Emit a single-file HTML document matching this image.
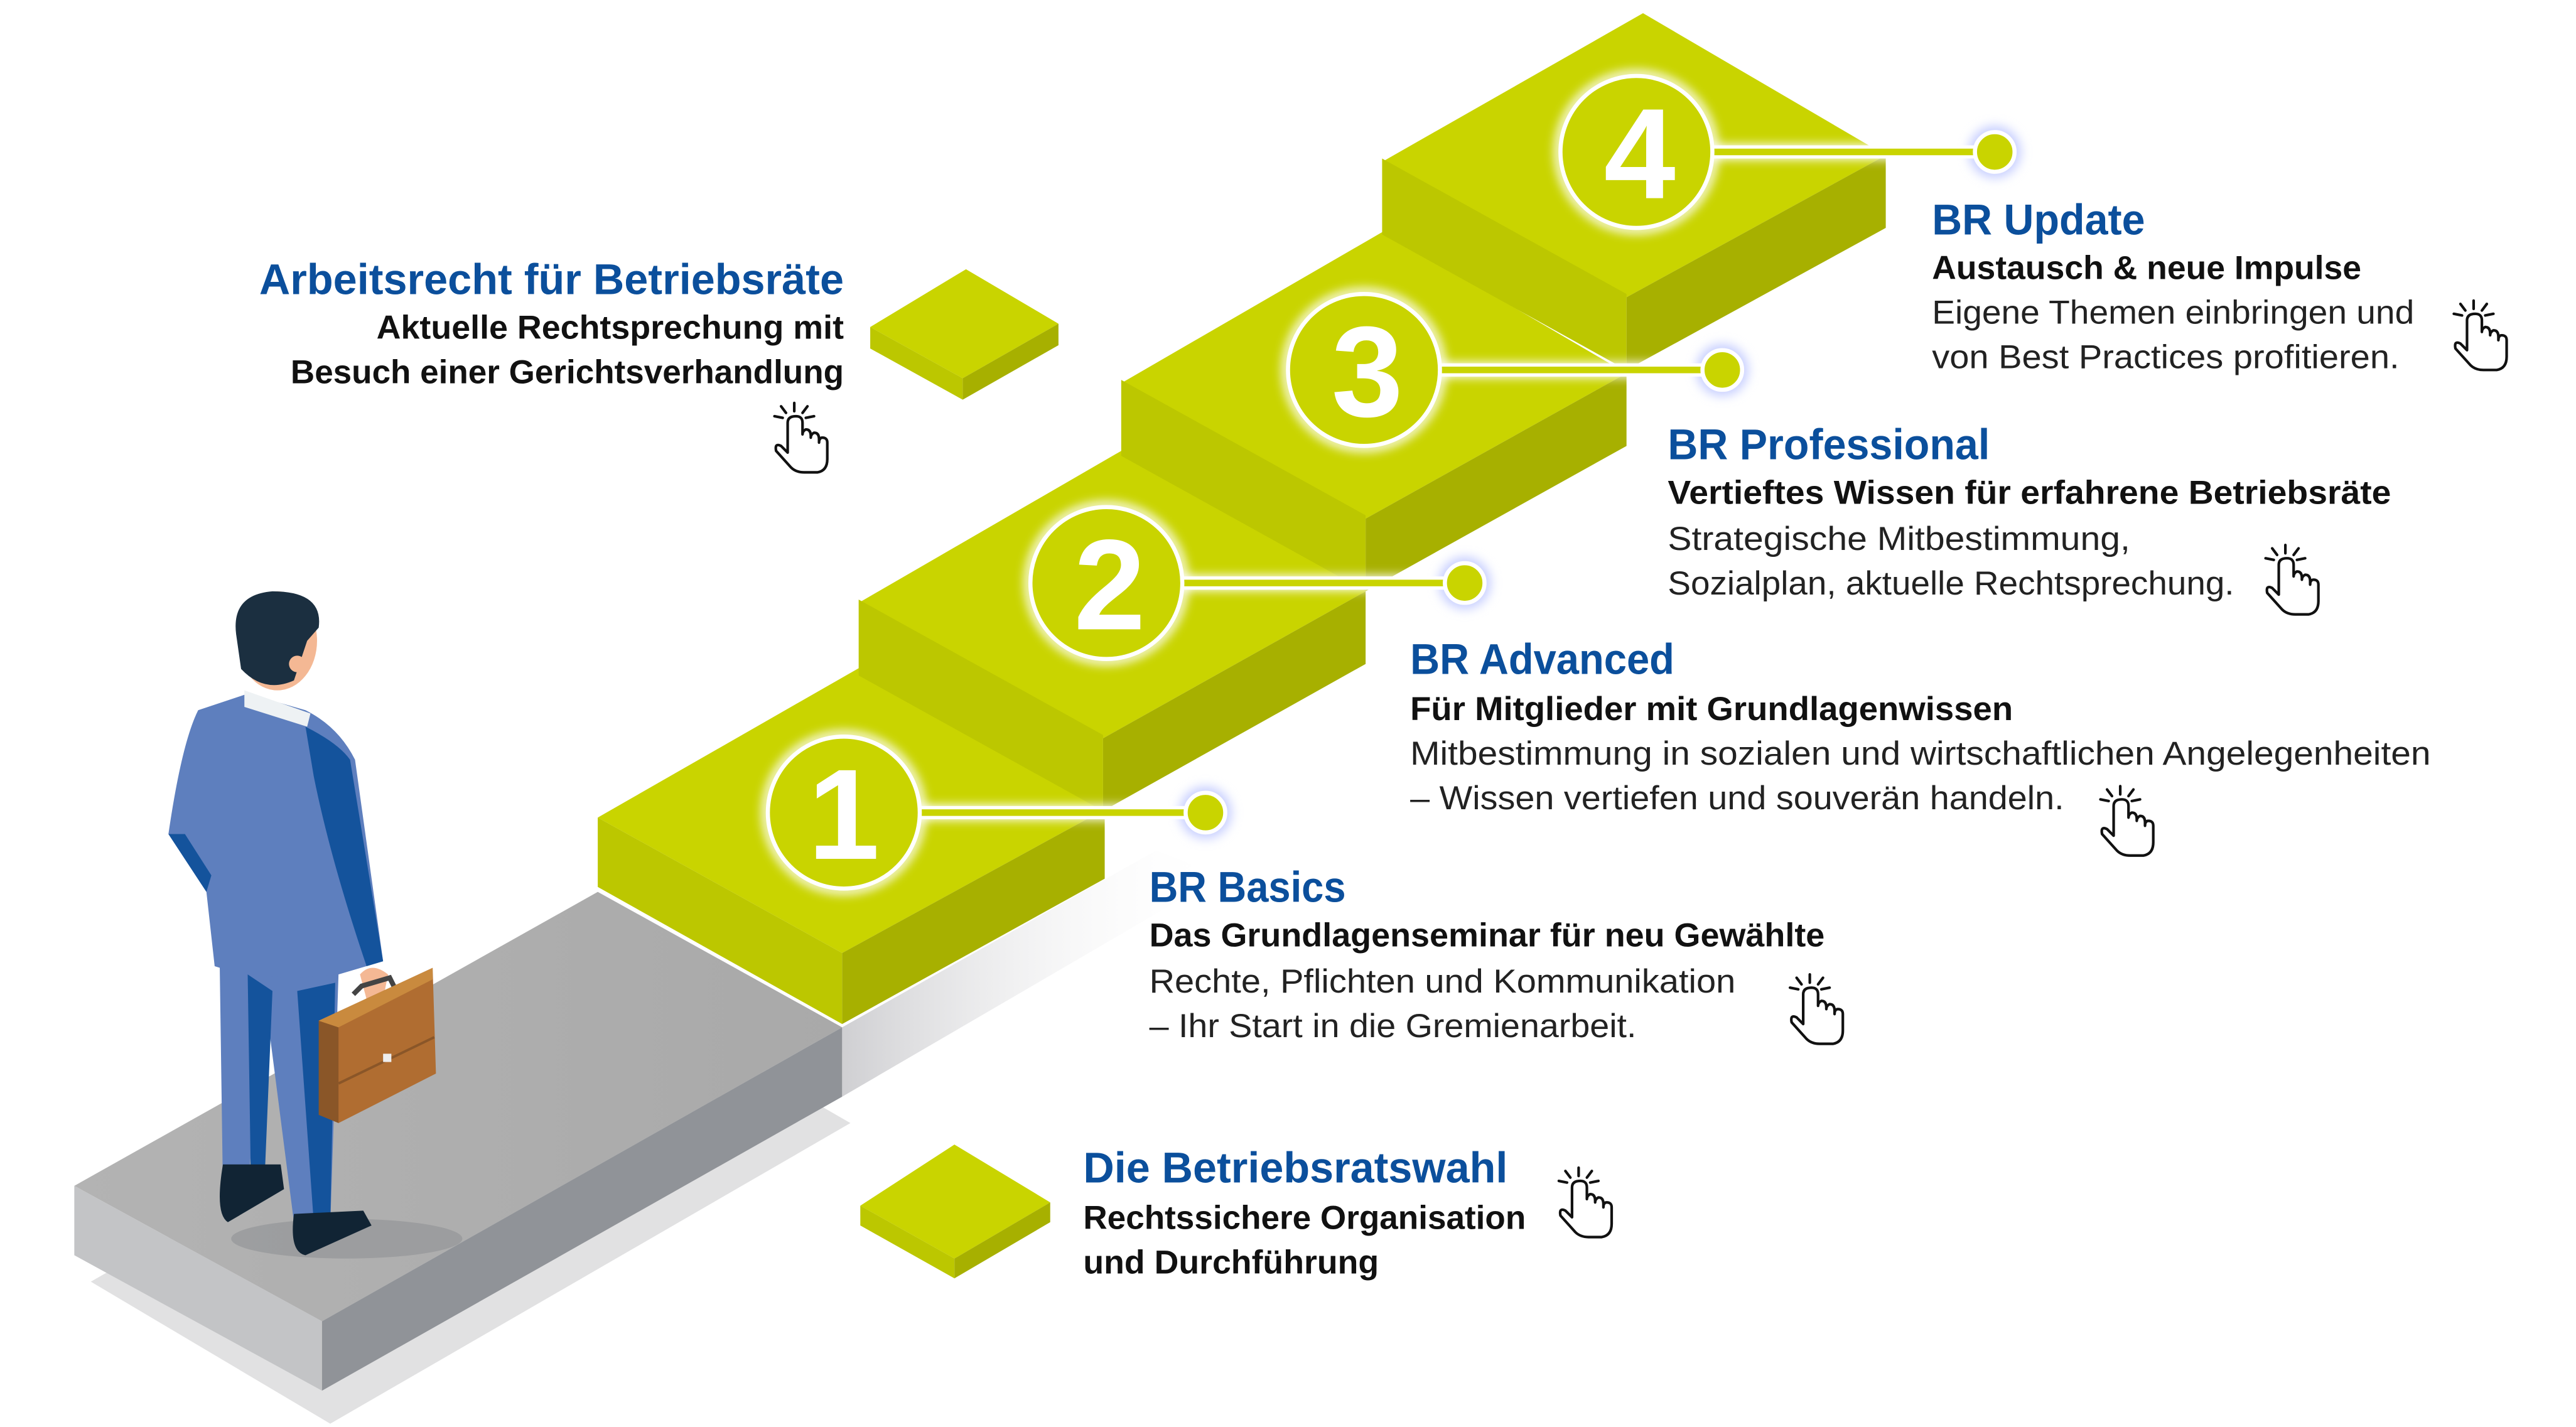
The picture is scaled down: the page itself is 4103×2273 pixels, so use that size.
<!DOCTYPE html>
<html><head><meta charset="utf-8"><style>
html,body{margin:0;padding:0;background:#fff;width:4103px;height:2273px;overflow:hidden}
svg{display:block}
text{font-family:"Liberation Sans",sans-serif}
.t{fill:#0b4f9c;font-weight:bold;font-size:26px}
.b{fill:#111;font-weight:bold;font-size:20px}
.r{fill:#222;font-size:20px}
</style></head><body>
<svg width="4103" height="2273" viewBox="0 0 1560 864" preserveAspectRatio="none" xmlns="http://www.w3.org/2000/svg">
<defs>
<filter id="glow" x="-30%" y="-30%" width="160%" height="160%"><feGaussianBlur stdDeviation="3"/></filter>
<linearGradient id="sh" x1="0" y1="0" x2="1" y2="0"><stop offset="0" stop-color="#cfcfd2"/><stop offset="1" stop-color="#fff" stop-opacity="0"/></linearGradient>
<linearGradient id="pt" x1="0" y1="0" x2="1" y2="0"><stop offset="0" stop-color="#b3b3b3"/><stop offset="1" stop-color="#a9a9a9"/></linearGradient>
<g id="hand" fill="none" stroke="#111" stroke-width="1.6" stroke-linejoin="round" stroke-linecap="round">
<path d="M12 14 L12 32 L8 28 Q4 26 5 31 L14 41 Q17 44 22 44 L30 44 Q36 43 36 36 L36 26 Q36 23 33 23 Q31 23 31 26 L31 24 Q31 20 28 20 Q26 21 26 23 L26 22 Q26 18 23 18 Q21 19 21 21 L21 14 Q21 10 17 10 Q12 10 12 14 Z"/>
<path d="M16 2 L16 7 M8 4 L11 8 M24 4 L21 8 M4 10 L9 11 M28 10 L23 11"/>
</g>
</defs>

<!-- platform -->
<polygon points="55,776 200,862 515,680 370,596" fill="#d4d4d6" opacity="0.7"/>
<polygon points="45,718 362,540 510,622 195,800" fill="url(#pt)"/>
<polygon points="45,718 195,800 195,842 45,760" fill="#c3c4c6"/>
<polygon points="195,800 510,622 510,664 195,842" fill="#909398"/>
<polygon points="510,622 700,515 740,530 510,664" fill="url(#sh)"/>

<!-- steps (front to back so upper risers cover seams) -->
<!-- step1 -->
<polygon points="362,495 521,404 669,490 510,577" fill="#c9d400"/>
<polygon points="362,495 510,577 510,620 362,537" fill="#bcc700"/>
<polygon points="510,577 669,490 669,532 510,620" fill="#a7b000"/>
<!-- step2 -->
<polygon points="520,365 679,273 827,358 668,447" fill="#c9d400"/>
<polygon points="520,363 668,445 668,491 520,409" fill="#bcc700"/>
<polygon points="668,447 827,358 827,402 668,491" fill="#a7b000"/>
<!-- step3 -->
<polygon points="679,232 838,140 985,226 827,314" fill="#c9d400"/>
<polygon points="679,230 827,312 827,358 679,276" fill="#bcc700"/>
<polygon points="827,314 985,226 985,270 827,358" fill="#a7b000"/>
<!-- step4 -->
<polygon points="837,98 995,8 1142,94 985,180" fill="#c9d400"/>
<polygon points="837,96 985,178 985,224 837,142" fill="#bcc700"/>
<polygon points="985,180 1142,94 1142,138 985,224" fill="#a7b000"/>

<!-- small cubes -->
<polygon points="527,198 585,163 641,196 583,229" fill="#c9d400"/>
<polygon points="527,198 583,229 583,242 527,211" fill="#bcc700"/>
<polygon points="583,229 641,196 641,209 583,242" fill="#a7b000"/>
<polygon points="521,730 578,693 636,728 578,762" fill="#c9d400"/>
<polygon points="521,730 578,762 578,774 521,742" fill="#bcc700"/>
<polygon points="578,762 636,728 636,740 578,774" fill="#a7b000"/>

<!-- connectors -->
<g>
<g filter="url(#glow)" fill="#fff" stroke="#fff" stroke-width="9">
<line x1="550" y1="492" x2="720" y2="492"/><line x1="710" y1="353" x2="877" y2="353"/><line x1="866" y1="224" x2="1033" y2="224"/><line x1="1031" y1="92" x2="1198" y2="92"/>
<circle cx="511" cy="492" r="47" fill="none" stroke-width="5"/><circle cx="670" cy="353" r="47" fill="none" stroke-width="5"/><circle cx="826" cy="224" r="47" fill="none" stroke-width="5"/><circle cx="991" cy="92" r="47" fill="none" stroke-width="5"/>
</g>
<g filter="url(#glow)" fill="#c9d0ff"><circle cx="730" cy="492" r="16"/><circle cx="887" cy="353" r="16"/><circle cx="1043" cy="224" r="16"/><circle cx="1208" cy="92" r="16"/></g>
<g stroke="#fff" stroke-width="8"><line x1="556" y1="492" x2="725" y2="492"/><line x1="715" y1="353" x2="880" y2="353"/><line x1="871" y1="224" x2="1036" y2="224"/><line x1="1036" y1="92" x2="1200" y2="92"/></g>
<g stroke="#c9d400" stroke-width="4"><line x1="556" y1="492" x2="725" y2="492"/><line x1="715" y1="353" x2="880" y2="353"/><line x1="871" y1="224" x2="1036" y2="224"/><line x1="1036" y1="92" x2="1200" y2="92"/></g>
<g fill="#c9d400" stroke="#fff" stroke-width="2.5"><circle cx="730" cy="492" r="12"/><circle cx="887" cy="353" r="12"/><circle cx="1043" cy="224" r="12"/><circle cx="1208" cy="92" r="12"/></g>
<g fill="#c9d400" stroke="#fff" stroke-width="2.5"><circle cx="511" cy="492" r="46"/><circle cx="670" cy="353" r="46"/><circle cx="826" cy="224" r="46"/><circle cx="991" cy="92" r="46"/></g>
<g fill="#fff" font-weight="bold" font-size="78" text-anchor="middle"><text x="511" y="520">1</text><text x="672" y="381">2</text><text x="828" y="252">3</text><text x="993" y="120">4</text></g>
</g>

<!-- man -->
<g>
<ellipse cx="210" cy="750" rx="70" ry="12" fill="#8f9194" opacity="0.6"/>
<path d="M133 580 L135 720 L150 722 L160 600 L178 740 L200 742 L205 590 Z" fill="#5e7fbe"/>
<path d="M150 590 L152 720 L160 720 L165 600 Z M180 600 L190 740 L200 740 L203 595 Z" fill="#14539c"/>
<path d="M135 705 L170 705 L172 720 L138 740 Q130 735 135 705 Z" fill="#112434"/>
<path d="M178 735 L220 733 L225 742 L185 760 Q175 758 178 735 Z" fill="#112434"/>
<path d="M120 430 Q110 450 102 505 L125 540 L130 585 Q160 595 205 590 L232 582 L215 460 Q205 440 185 430 L150 420 Z" fill="#5e7fbe"/>
<path d="M102 505 L125 540 L128 530 L112 505 Z M185 440 Q205 450 212 460 L232 582 L222 585 Q200 520 190 470 Z" fill="#14539c"/>
<path d="M148 418 L188 432 L186 440 L148 428 Z" fill="#eef2f4"/>
<ellipse cx="168" cy="388" rx="24" ry="30" fill="#f4b894"/>
<path d="M143 384 Q140 360 165 358 Q196 358 193 380 L186 388 Q182 400 178 412 Q160 420 146 405 Z" fill="#1b2f40"/>
<circle cx="180" cy="402" r="5" fill="#f4b894"/>
<path d="M218 590 Q225 582 235 590 L232 605 L222 605 Z" fill="#f4b894"/>
<path d="M214 602 L219 597 L236 592 L240 600" stroke="#444" stroke-width="3" fill="none"/>
<polygon points="193,618 262,586 264,650 205,680" fill="#b06d31"/>
<polygon points="193,618 205,622 205,680 193,675" fill="#8a5628"/>
<polygon points="193,618 262,586 262,593 205,622" fill="#c98a3e"/>
<line x1="205" y1="656" x2="263" y2="628" stroke="#8a5628" stroke-width="1.5"/>
<rect x="232" y="638" width="5" height="5" fill="#eee"/>
</g>

<!-- texts -->
<g text-anchor="end">
<text class="t" x="511" y="178" textLength="354" lengthAdjust="spacingAndGlyphs">Arbeitsrecht für Betriebsräte</text>
<text class="b" x="511" y="205" textLength="283" lengthAdjust="spacingAndGlyphs">Aktuelle Rechtsprechung mit</text>
<text class="b" x="511" y="232" textLength="335" lengthAdjust="spacingAndGlyphs">Besuch einer Gerichtsverhandlung</text>
</g>
<text class="t" x="1170" y="142" textLength="129" lengthAdjust="spacingAndGlyphs">BR Update</text>
<text class="b" x="1170" y="169" textLength="260" lengthAdjust="spacingAndGlyphs">Austausch &amp; neue Impulse</text>
<text class="r" x="1170" y="196" textLength="292" lengthAdjust="spacingAndGlyphs">Eigene Themen einbringen und</text>
<text class="r" x="1170" y="223" textLength="283" lengthAdjust="spacingAndGlyphs">von Best Practices profitieren.</text>

<text class="t" x="1010" y="278" textLength="195" lengthAdjust="spacingAndGlyphs">BR Professional</text>
<text class="b" x="1010" y="305" textLength="438" lengthAdjust="spacingAndGlyphs">Vertieftes Wissen für erfahrene Betriebsräte</text>
<text class="r" x="1010" y="333" textLength="280" lengthAdjust="spacingAndGlyphs">Strategische Mitbestimmung,</text>
<text class="r" x="1010" y="360" textLength="343" lengthAdjust="spacingAndGlyphs">Sozialplan, aktuelle Rechtsprechung.</text>

<text class="t" x="854" y="408" textLength="160" lengthAdjust="spacingAndGlyphs">BR Advanced</text>
<text class="b" x="854" y="436" textLength="365" lengthAdjust="spacingAndGlyphs">Für Mitglieder mit Grundlagenwissen</text>
<text class="r" x="854" y="463" textLength="618" lengthAdjust="spacingAndGlyphs">Mitbestimmung in sozialen und wirtschaftlichen Angelegenheiten</text>
<text class="r" x="854" y="490" textLength="396" lengthAdjust="spacingAndGlyphs">– Wissen vertiefen und souverän handeln.</text>

<text class="t" x="696" y="546" textLength="119" lengthAdjust="spacingAndGlyphs">BR Basics</text>
<text class="b" x="696" y="573" textLength="409" lengthAdjust="spacingAndGlyphs">Das Grundlagenseminar für neu Gewählte</text>
<text class="r" x="696" y="601" textLength="355" lengthAdjust="spacingAndGlyphs">Rechte, Pflichten und Kommunikation</text>
<text class="r" x="696" y="628" textLength="295" lengthAdjust="spacingAndGlyphs">– Ihr Start in die Gremienarbeit.</text>

<text class="t" x="656" y="716" textLength="257" lengthAdjust="spacingAndGlyphs">Die Betriebsratswahl</text>
<text class="b" x="656" y="744" textLength="268" lengthAdjust="spacingAndGlyphs">Rechtssichere Organisation</text>
<text class="b" x="656" y="771" textLength="179" lengthAdjust="spacingAndGlyphs">und Durchführung</text>

<!-- hands -->
<use href="#hand" x="465" y="242"/>
<use href="#hand" x="1482" y="180"/>
<use href="#hand" x="1368" y="328"/>
<use href="#hand" x="1268" y="474"/>
<use href="#hand" x="1080" y="588"/>
<use href="#hand" x="940" y="705"/>
</svg>
</body></html>
